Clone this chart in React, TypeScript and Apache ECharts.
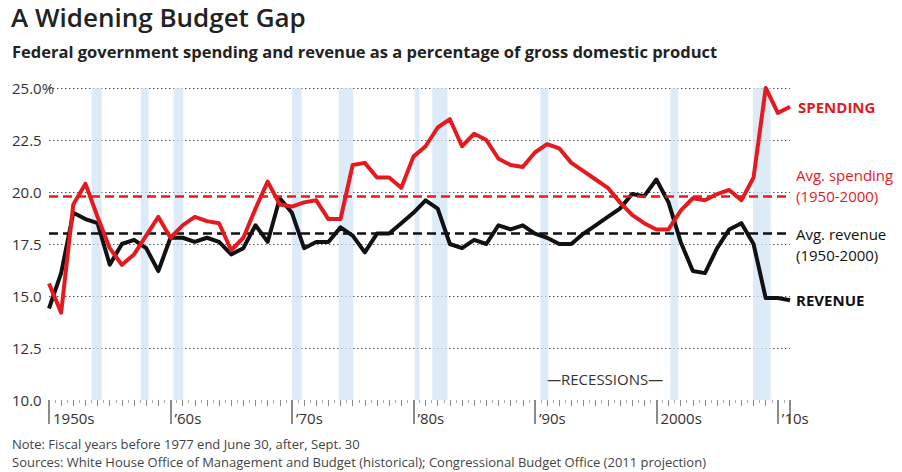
import React, { useEffect, useRef } from "react";
import * as echarts from "echarts";

const years: number[] = [];
for (let y = 1950; y <= 2011; y++) years.push(y);

const revenue = [
  14.4, 16.1, 19.0, 18.7, 18.5, 16.5, 17.5, 17.7, 17.3, 16.2,
  17.8, 17.8, 17.6, 17.8, 17.6, 17.0, 17.3, 18.4, 17.6, 19.7,
  19.0, 17.3, 17.6, 17.6, 18.3, 17.9, 17.1, 18.0, 18.0, 18.5,
  19.0, 19.6, 19.2, 17.5, 17.3, 17.7, 17.5, 18.4, 18.2, 18.4,
  18.0, 17.8, 17.5, 17.5, 18.0, 18.4, 18.8, 19.2, 19.9, 19.8,
  20.6, 19.5, 17.6, 16.2, 16.1, 17.3, 18.2, 18.5, 17.5, 14.9,
  14.9, 14.8,
];

const spending = [
  15.6, 14.2, 19.4, 20.4, 18.8, 17.3, 16.5, 17.0, 17.9, 18.8,
  17.8, 18.4, 18.8, 18.6, 18.5, 17.2, 17.8, 19.2, 20.5, 19.4,
  19.3, 19.5, 19.6, 18.7, 18.7, 21.3, 21.4, 20.7, 20.7, 20.2,
  21.7, 22.2, 23.1, 23.5, 22.2, 22.8, 22.5, 21.6, 21.3, 21.2,
  21.9, 22.3, 22.1, 21.4, 21.0, 20.6, 20.2, 19.5, 18.9, 18.5,
  18.2, 18.2, 19.1, 19.7, 19.6, 19.9, 20.1, 19.6, 20.7, 25.0,
  23.8, 24.1,
];

const avgSpending = 19.8;
const avgRevenue = 18.0;

const recessions: [number, number][] = [
  [1953.5, 1954.35],
  [1957.55, 1958.2],
  [1960.25, 1961.05],
  [1970.0, 1970.8],
  [1973.85, 1975.05],
  [1980.1, 1980.5],
  [1981.55, 1982.8],
  [1990.45, 1991.1],
  [2001.15, 2001.8],
  [2007.95, 2009.4],
];

const decadeLabels: Record<number, string> = {
  1950: "1950s",
  1960: "\u201960s",
  1970: "\u201970s",
  1980: "\u201980s",
  1990: "\u201990s",
  2000: "2000s",
  2010: "\u201910s",
};

const RED = "#e51a1f";
const BLACK = "#111111";
const FONT = "'Open Sans', 'Noto Sans', sans-serif";

export default function App() {
  const ref = useRef<HTMLDivElement>(null);
  useEffect(() => {
    document.body.style.margin = "0";
    if (!ref.current) return;
    const chart = echarts.init(ref.current, null, { renderer: "svg" });
    const option: any = {
      animation: false,
      backgroundColor: "#ffffff",
      textStyle: { fontFamily: FONT },
      grid: { left: 49, right: 112, top: 88, bottom: 72 },
      xAxis: [
        {
          type: "value",
          position: "bottom",
          min: 1950,
          max: 2011,
          interval: 10,
          axisLine: { show: false },
          axisTick: { show: true, length: 24, lineStyle: { color: "#666", width: 1.5 } },
          splitLine: { show: false },
          axisLabel: {
            show: true,
            margin: 10,
            align: "left",
            verticalAlign: "top",
            padding: [0, 0, 0, 4],
            fontSize: 15,
            color: "#333",
            fontFamily: FONT,
            formatter: (v: number) => decadeLabels[v] || "",
          },
        },
        {
          type: "value",
          position: "bottom",
          min: 1950,
          max: 2011,
          interval: 1,
          axisLine: { show: false },
          axisTick: { show: true, length: 6, lineStyle: { color: "#888", width: 1 } },
          minorTick: { show: true, splitNumber: 2, length: 3, lineStyle: { color: "#aaa" } },
          splitLine: { show: false },
          axisLabel: { show: false },
        },
      ],
      yAxis: {
        type: "value",
        min: 10,
        max: 25,
        interval: 2.5,
        axisLine: { show: false },
        axisTick: { show: false },
        splitLine: {
          show: true,
          showMinLine: false,
          lineStyle: { color: "#555", type: [1.5, 2.5], width: 1 },
        },
        axisLabel: {
          align: "left",
          margin: 37,
          fontSize: 15,
          color: "#333",
          fontFamily: FONT,
          formatter: (v: number) => (v === 25 ? "25.0%" : v.toFixed(1)),
        },
      },
      series: [
        {
          name: "Recessions",
          type: "line",
          data: [],
          z: 1,
          markArea: {
            silent: true,
            itemStyle: { color: "rgba(206, 227, 246, 0.7)" },
            data: recessions.map(([a, b]) => [{ xAxis: a }, { xAxis: b }]),
          },
        },
        {
          name: "Revenue",
          type: "line",
          data: years.map((y, i) => [y, revenue[i]]),
          showSymbol: false,
          z: 4,
          lineStyle: { color: BLACK, width: 4, join: "round" },
          itemStyle: { color: BLACK },
          endLabel: {
            show: true,
            formatter: "REVENUE",
            color: BLACK,
            fontWeight: "bold",
            fontSize: 15,
            distance: 6,
            fontFamily: FONT,
          },
          markLine: {
            silent: true,
            symbol: "none",
            lineStyle: { color: BLACK, type: [9, 5], width: 2.5 },
            label: {
              show: true,
              position: "end",
              distance: 6,
              formatter: " \nAvg. revenue\n(1950-2000)",
              color: "#111",
              fontSize: 15,
              lineHeight: 21,
              fontFamily: FONT,
            },
            data: [{ yAxis: avgRevenue }],
          },
        },
        {
          name: "Spending",
          type: "line",
          data: years.map((y, i) => [y, spending[i]]),
          showSymbol: false,
          z: 5,
          lineStyle: { color: RED, width: 4, join: "round" },
          itemStyle: { color: RED },
          endLabel: {
            show: true,
            formatter: "SPENDING",
            color: RED,
            fontWeight: "bold",
            fontSize: 15,
            distance: 8,
            fontFamily: FONT,
          },
          markLine: {
            silent: true,
            symbol: "none",
            lineStyle: { color: RED, type: [9, 5], width: 2.5 },
            label: {
              show: true,
              position: "end",
              distance: 6,
              formatter: "Avg. spending\n(1950-2000)\n ",
              color: RED,
              fontSize: 15,
              lineHeight: 21,
              fontFamily: FONT,
            },
            data: [{ yAxis: avgSpending }],
          },
        },
      ],
      graphic: [
        {
          type: "text",
          left: 11,
          top: 4,
          style: {
            text: "A Widening Budget Gap",
            font: `600 26px ${FONT}`,
            fill: "#222",
          },
        },
        {
          type: "text",
          left: 12,
          top: 43,
          style: {
            text: "Federal government spending and revenue as a percentage of gross domestic product",
            font: `bold 16.5px ${FONT}`,
            fill: "#222",
          },
        },
        {
          type: "text",
          left: 546,
          top: 371,
          style: {
            text: "\u2014RECESSIONS\u2014",
            font: `15px ${FONT}`,
            fill: "#333",
          },
        },
        {
          type: "text",
          left: 12,
          top: 437,
          style: {
            text: "Note: Fiscal years before 1977 end June 30, after, Sept. 30",
            font: `13px ${FONT}`,
            fill: "#444",
          },
        },
        {
          type: "text",
          left: 12,
          top: 455,
          style: {
            text: "Sources: White House Office of Management and Budget (historical); Congressional Budget Office (2011 projection)",
            font: `13px ${FONT}`,
            fill: "#444",
          },
        },
      ],
    };
    chart.setOption(option);
    return () => chart.dispose();
  }, []);
  return <div ref={ref} style={{ width: 902, height: 472 }} />;
}
